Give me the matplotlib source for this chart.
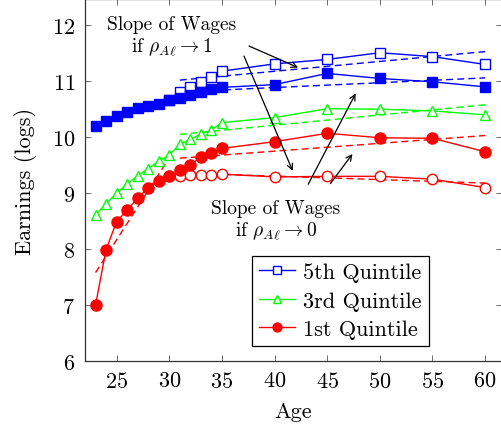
import matplotlib
matplotlib.use("Agg")
import matplotlib.pyplot as plt

plt.rcParams["font.family"] = "serif"
plt.rcParams["font.serif"] = ["cmr10", "DejaVu Serif"]
plt.rcParams["mathtext.fontset"] = "cm"
plt.rcParams["axes.formatter.use_mathtext"] = True

# baseline profiles (ages 23-35, then every 5 years)
ages = [23, 24, 25, 26, 27, 28, 29, 30, 31, 32, 33, 34, 35, 40, 45, 50, 55, 60]
q5_base = [10.20, 10.29, 10.38, 10.45, 10.52, 10.55, 10.60, 10.66, 10.70, 10.76,
           10.80, 10.86, 10.89, 10.94, 11.14, 11.05, 10.99, 10.90]
q3_base = [8.61, 8.81, 9.00, 9.16, 9.31, 9.44, 9.57, 9.68, 9.875, 9.96,
           10.06, 10.13, 10.26, 10.35, 10.51, 10.50, 10.47, 10.40]
q1_base = [7.00, 7.99, 8.49, 8.70, 8.91, 9.10, 9.21, 9.30, 9.41, 9.50,
           9.65, 9.71, 9.80, 9.92, 10.07, 9.99, 9.98, 9.74]

# counterfactual profiles (from age 30 on)
ages_cf = [30, 31, 32, 33, 34, 35, 40, 45, 50, 55, 60]
q5_cf = [10.66, 10.81, 10.90, 10.98, 11.08, 11.18, 11.31, 11.39, 11.51, 11.44, 11.30]
q1_cf = [9.30, 9.31, 9.32, 9.32, 9.33, 9.34, 9.29, 9.30, 9.30, 9.25, 9.10]

# dashed slope lines (start/end)
slope_ages = [31, 60]
q5_slope_hi = [11.02, 11.53]
q5_slope_lo = [10.81, 11.06]
q3_slope = [10.05, 10.58]
q1_slope_hi = [9.625, 10.03]
q1_slope_lo = [9.36, 9.18]
young_ages = [23, 30]
q1_slope_young = [7.58, 9.63]

blue = "#0000ff"
green = "#00ff00"
red = "#ff0000"

fig = plt.figure(figsize=(5.01, 4.31), dpi=100)
ax = fig.add_axes([85 / 501, 69 / 431, 417 / 501, 362 / 431])

lw = 1.0
# dashed lines
ax.plot(slope_ages, q5_slope_hi, "--", color=blue, lw=lw, dashes=(5, 3))
ax.plot(slope_ages, q5_slope_lo, "--", color=blue, lw=lw, dashes=(5, 3))
ax.plot(slope_ages, q3_slope, "--", color=green, lw=lw, dashes=(5, 3))
ax.plot(slope_ages, q1_slope_hi, "--", color=red, lw=lw, dashes=(5, 3))
ax.plot(slope_ages, q1_slope_lo, "--", color=red, lw=lw, dashes=(5, 3))
ax.plot(young_ages, q1_slope_young, "--", color=red, lw=lw, dashes=(5, 3))

# counterfactual series
ax.plot(ages_cf, q5_cf, "-s", color=blue, lw=lw, ms=7, mfc="white", mew=1.0,
        label="5th Quintile")
ax.plot(ages_cf, q1_cf, "-o", color=red, lw=lw, ms=7.5, mfc="white", mew=1.0)

# baseline series
ax.plot(ages, q5_base, "-s", color=blue, lw=lw, ms=7, mfc=blue, mew=1.0)
ax.plot(ages, q3_base, "-^", color=green, lw=lw, ms=6.5, mfc="white", mew=1.0,
        label="3rd Quintile")
ax.plot(ages, q1_base, "-o", color=red, lw=lw, ms=8, mfc=red, mew=1.0,
        label="1st Quintile")

# annotations
ax.text(30.2, 11.81, "Slope of Wages\nif $\\rho_{A\\ell} \\to 1$", ha="center",
        va="center", fontsize=14, linespacing=1.15)
ax.text(40.1, 8.52, "Slope of Wages\nif $\\rho_{A\\ell} \\to 0$", ha="center",
        va="center", fontsize=14, linespacing=1.15)

arrows = [((37.57, 11.63), (42.23, 11.245)),
          ((37.10, 11.45), (41.72, 9.40)),
          ((43.20, 9.16), (47.70, 10.78)),
          ((45.30, 9.17), (47.40, 9.70))]
for tail, head in arrows:
    ax.annotate("", xy=head, xytext=tail,
                arrowprops=dict(arrowstyle="->", color="black", lw=0.9,
                                shrinkA=0, shrinkB=0))

ax.set_xlim(22, 61.6)
ax.set_ylim(6, 12.47)
ax.set_xticks([25, 30, 35, 40, 45, 50, 55, 60])
ax.set_yticks([6, 7, 8, 9, 10, 11, 12])
ax.tick_params(direction="in", top=True, right=True, length=4, width=0.6,
               color="#555555", labelsize=16, pad=7)
for sp in ax.spines.values():
    sp.set_color("#333333")
    sp.set_linewidth(0.9)

ax.set_xlabel("Age", fontsize=16, labelpad=8)
ax.set_ylabel("Earnings (logs)", fontsize=16, labelpad=11)

leg = ax.legend(loc="lower right", bbox_to_anchor=(0.824, 0.042), fontsize=16,
                fancybox=False, framealpha=1, edgecolor="black",
                handlelength=1.6, labelspacing=0.4, borderpad=0.3,
                handletextpad=0.4, borderaxespad=0, markerscale=0.8)
leg.get_frame().set_linewidth(0.9)

fig.savefig("out.png", dpi=100)
